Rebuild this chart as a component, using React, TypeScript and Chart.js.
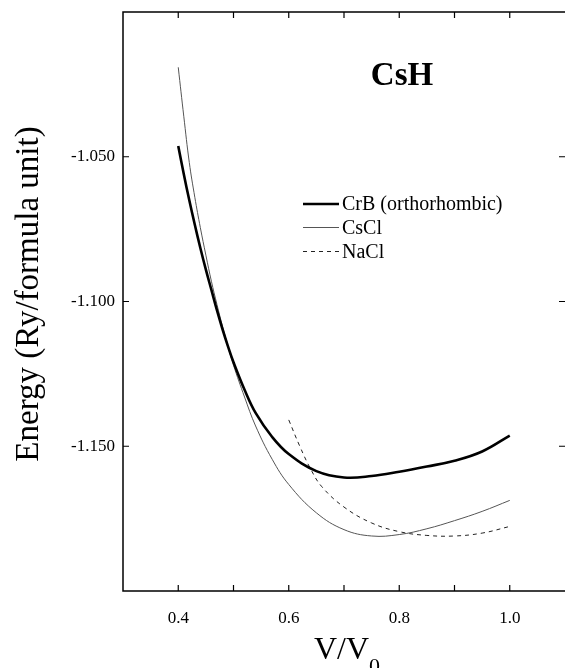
import React, { useEffect, useRef } from "react";
import { Chart, registerables } from "chart.js";

Chart.register(...registerables);

// ---- data ----
const crbV = [0.40, 0.41, 0.42, 0.43, 0.44, 0.45, 0.46, 0.47, 0.48, 0.49, 0.50, 0.52, 0.54, 0.57, 0.60, 0.65, 0.70, 0.75, 0.80, 0.85, 0.90, 0.95, 1.00];
const crbE = [-1.0463, -1.0560, -1.0650, -1.0735, -1.0815, -1.0890, -1.0960, -1.1030, -1.1095, -1.1155, -1.1210, -1.1305, -1.1385, -1.1468, -1.1527, -1.1586, -1.1608, -1.1603, -1.1588, -1.1570, -1.1550, -1.1518, -1.1463];

const csclV = [0.40, 0.41, 0.42, 0.43, 0.44, 0.45, 0.46, 0.47, 0.48, 0.49, 0.50, 0.52, 0.54, 0.57, 0.60, 0.65, 0.70, 0.75, 0.80, 0.85, 0.90, 0.95, 1.00];
const csclE = [-1.0191, -1.0360, -1.0520, -1.0640, -1.0745, -1.0840, -1.0930, -1.1010, -1.1085, -1.1155, -1.1220, -1.1330, -1.1430, -1.1545, -1.1632, -1.1730, -1.1788, -1.1810, -1.1805, -1.1785, -1.1757, -1.1725, -1.1687];

const naclV = [0.60, 0.62, 0.64, 0.66, 0.70, 0.75, 0.80, 0.85, 0.90, 0.95, 1.00];
const naclE = [-1.1409, -1.1500, -1.1580, -1.1640, -1.1710, -1.1765, -1.1795, -1.1808, -1.1810, -1.1800, -1.1777];

const seriesNames = ["CrB (orthorhombic)", "CsCl", "NaCl"];
const xTickLabels = ["0.4", "0.6", "0.8", "1.0"];
const yTickLabels = ["-1.050", "-1.100", "-1.150"];
const chartTitle = "CsH";
const yAxisTitle = "Energy (Ry/formula unit)";
const xAxisMain = "V/V";
const xAxisSub = "0";

const SERIF = '"Liberation Serif", "Times New Roman", serif';

const toPts = (xs: number[], ys: number[]) => xs.map((x, i) => ({ x, y: ys[i] }));

const decorPlugin = {
  id: "decor",
  afterDraw(chart: any) {
    const { ctx, chartArea } = chart;
    const xs = chart.scales.x;
    const ys = chart.scales.y;
    const { left, right, top, bottom } = chartArea;
    ctx.save();
    ctx.strokeStyle = "#000";
    ctx.fillStyle = "#000";
    // frame (right edge lies at the picture's border)
    ctx.lineWidth = 1.5;
    ctx.beginPath();
    ctx.moveTo(right + 2, top);
    ctx.lineTo(left, top);
    ctx.lineTo(left, bottom);
    ctx.lineTo(right + 2, bottom);
    ctx.stroke();
    // inward ticks
    ctx.lineWidth = 1.2;
    const tl = 6;
    xs.ticks.forEach((t: any) => {
      const px = xs.getPixelForValue(t.value);
      if (px <= left + 1 || px >= right - 1) return;
      ctx.beginPath();
      ctx.moveTo(px, bottom);
      ctx.lineTo(px, bottom - tl);
      ctx.moveTo(px, top);
      ctx.lineTo(px, top + tl);
      ctx.stroke();
    });
    ys.ticks.forEach((t: any) => {
      const py = ys.getPixelForValue(t.value);
      if (py <= top + 1 || py >= bottom - 1) return;
      ctx.beginPath();
      ctx.moveTo(left, py);
      ctx.lineTo(left + tl, py);
      ctx.moveTo(right, py);
      ctx.lineTo(right - tl, py);
      ctx.stroke();
    });

    // chart title
    ctx.font = `bold 33px ${SERIF}`;
    ctx.textAlign = "center";
    ctx.textBaseline = "alphabetic";
    ctx.fillText(chartTitle, 402, 85);

    // y axis title
    ctx.save();
    ctx.translate(29, 294);
    ctx.rotate(-Math.PI / 2);
    ctx.font = `33px ${SERIF}`;
    ctx.textAlign = "center";
    ctx.textBaseline = "middle";
    ctx.fillText(yAxisTitle, 0, 0);
    ctx.restore();

    // x axis title with subscript
    ctx.font = `32px ${SERIF}`;
    const wMain = ctx.measureText(xAxisMain).width;
    ctx.font = `22px ${SERIF}`;
    const wSub = ctx.measureText(xAxisSub).width;
    const startX = (left + right) / 2 + 3 - (wMain + wSub) / 2;
    ctx.textAlign = "left";
    ctx.textBaseline = "alphabetic";
    ctx.font = `32px ${SERIF}`;
    ctx.fillText(xAxisMain, startX, 659);
    ctx.font = `22px ${SERIF}`;
    ctx.fillText(xAxisSub, startX + wMain, 673);

    // legend
    const lx0 = 303, lx1 = 339, tx = 342;
    const rows = [204, 227.5, 251.5];
    chart.data.datasets.forEach((ds: any, i: number) => {
      const y = rows[i];
      ctx.save();
      ctx.strokeStyle = ds.borderColor;
      ctx.lineWidth = ds.borderWidth;
      ctx.setLineDash(ds.borderDash || []);
      ctx.beginPath();
      ctx.moveTo(lx0, y);
      ctx.lineTo(lx1, y);
      ctx.stroke();
      ctx.restore();
      ctx.font = `20px ${SERIF}`;
      ctx.textAlign = "left";
      ctx.textBaseline = "middle";
      ctx.fillStyle = "#000";
      ctx.fillText(ds.label, tx, y + 1);
    });
    ctx.restore();
  },
};

export default function App() {
  const ref = useRef<HTMLCanvasElement | null>(null);
  useEffect(() => {
    if (!ref.current) return;
    const chart = new Chart(ref.current, {
      type: "line",
      data: {
        datasets: [
          {
            label: seriesNames[0],
            data: toPts(crbV, crbE),
            borderColor: "#000",
            borderWidth: 2.6,
            pointRadius: 0,
            tension: 0.4,
            fill: false,
          },
          {
            label: seriesNames[1],
            data: toPts(csclV, csclE),
            borderColor: "#555",
            borderWidth: 1,
            pointRadius: 0,
            tension: 0.4,
            fill: false,
          },
          {
            label: seriesNames[2],
            data: toPts(naclV, naclE),
            borderColor: "#222",
            borderWidth: 1,
            borderDash: [4, 4],
            pointRadius: 0,
            tension: 0.4,
            fill: false,
          },
        ],
      },
      options: {
        animation: false,
        responsive: false,
        maintainAspectRatio: false,
        layout: { padding: { top: 12, left: 0, right: 0, bottom: 0 } },
        plugins: { legend: { display: false }, tooltip: { enabled: false }, title: { display: false } },
        scales: {
          x: {
            type: "linear",
            min: 0.3,
            max: 1.1,
            grid: { display: false, drawTicks: false },
            border: { display: false },
            afterFit: (s: any) => {
              s.height = 77;
              s.paddingLeft = 0;
              s.paddingRight = 0;
            },
            ticks: {
              stepSize: 0.1,
              padding: 17,
              maxRotation: 0,
              autoSkip: false,
              color: "#000",
              font: { family: SERIF, size: 17 },
              callback: (v: any) => {
                const s = Number(v).toFixed(1);
                return xTickLabels.includes(s) ? s : "";
              },
            },
          },
          y: {
            type: "linear",
            min: -1.2,
            max: -1.0,
            grid: { display: false, drawTicks: false },
            border: { display: false },
            afterFit: (s: any) => {
              s.width = 123;
              s.paddingTop = 0;
              s.paddingBottom = 0;
            },
            ticks: {
              stepSize: 0.05,
              padding: 8,
              autoSkip: false,
              color: "#000",
              font: { family: SERIF, size: 17 },
              callback: (v: any) => {
                const s = Number(v).toFixed(3);
                return yTickLabels.includes(s) ? s : "";
              },
            },
          },
        },
      },
      plugins: [decorPlugin],
    } as any);
    return () => chart.destroy();
  }, []);
  return (
    <div style={{ position: "absolute", left: 0, top: 0, width: 565, height: 668, background: "#fff" }}>
      <canvas ref={ref} width={565} height={668} style={{ display: "block", width: 565, height: 668 }} />
    </div>
  );
}
